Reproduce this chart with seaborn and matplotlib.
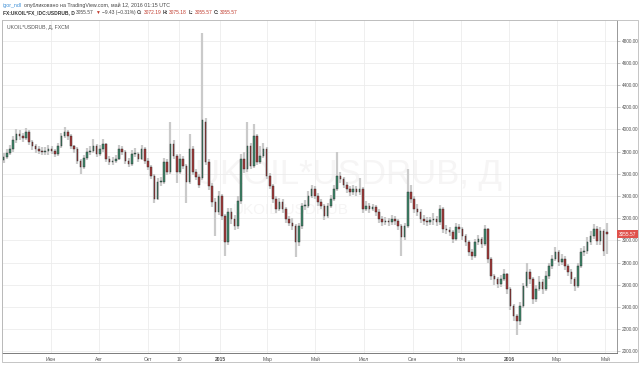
import matplotlib
matplotlib.use('Agg')
import matplotlib.pyplot as plt
import matplotlib.dates as mdates
import numpy as np
import pandas as pd
import seaborn as sns
from matplotlib.patches import Rectangle

# ---------------- data ----------------
opens = [3720, 3753, 3790, 3825, 3900, 3961, 3943, 3925, 3979, 3889, 3850, 3825, 3807, 3798, 3807, 3825, 3807, 3780, 3852, 3943,
         3979, 3943, 3852, 3825, 3717, 3662, 3740, 3798, 3807, 3852, 3780, 3825, 3870, 3735, 3708, 3717, 3735,
         3825, 3798, 3717, 3690, 3780, 3780, 3735, 3825, 3717, 3662, 3581, 3373, 3527, 3527, 3708, 3617, 3870, 3762, 3617, 3735,
         3671, 3527, 3825, 3617, 3572, 3560, 4070, 3708, 3490, 3346, 3255, 3400, 3219, 2984, 3255, 3192, 3128,
         3350, 3735, 3644, 3852, 3671, 3943, 3708, 3762, 3825, 3581, 3490, 3373, 3282, 3346, 3282, 3192, 3160, 3128, 2984, 3128,
         3310, 3310, 3400, 3463, 3400, 3346, 3310, 3219, 3310, 3373, 3463, 3581, 3554, 3500, 3463, 3436, 3463,
         3436, 3463, 3282, 3310, 3282, 3300, 3255, 3192, 3165, 3174, 3165, 3192, 3174, 3128, 3029, 3128, 3436, 3373, 3282, 3255,
         3192, 3174, 3165, 3180, 3192, 3165, 3282, 3101, 3092, 3074, 3011, 3119, 3101, 3038, 2984, 2893, 2857, 2984,
         3011, 2966, 3101, 2830, 2676, 2649, 2604, 2649, 2694, 2558, 2405, 2314, 2269, 2405, 2586, 2712, 2649, 2468, 2558, 2622,
         2558, 2676, 2767, 2830, 2893, 2803, 2830, 2767, 2712, 2649, 2586, 2767, 2893, 2902, 2984, 3038, 3101, 2993, 3083, 3072.19]
highs = [3790, 3820, 3860, 3940, 4000, 3990, 3970, 4010, 3990, 3900, 3870, 3850, 3840, 3840, 3860, 3850, 3820, 3880, 3970, 4020,
         3995, 3960, 3860, 3840, 3730, 3770, 3830, 3850, 3910, 3870, 3860, 3910, 3880, 3760, 3750, 3770, 3860,
         3850, 3810, 3740, 3810, 3830, 3800, 3860, 3840, 3740, 3680, 3600, 3560, 3570, 3740, 3730, 4070, 3900, 3780, 3780, 3760,
         3690, 3961, 3850, 3640, 3600, 4866, 4100, 3730, 3520, 3380, 3440, 3420, 3240, 3290, 3290, 3230, 3400,
         3780, 3800, 4070, 3880, 4050, 3960, 3850, 3880, 3840, 3610, 3510, 3400, 3380, 3370, 3300, 3220, 3200, 3150, 3160, 3340,
         3360, 3440, 3500, 3490, 3430, 3370, 3330, 3340, 3410, 3500, 3800, 3620, 3570, 3530, 3490, 3500, 3490,
         3560, 3480, 3350, 3340, 3330, 3320, 3280, 3220, 3210, 3200, 3230, 3220, 3190, 3150, 3160, 3644, 3500, 3400, 3330, 3280,
         3230, 3210, 3210, 3250, 3220, 3320, 3300, 3140, 3120, 3090, 3160, 3150, 3120, 3060, 3000, 2920, 3010, 3050,
         3030, 3140, 3110, 2850, 2700, 2670, 2690, 2740, 2710, 2580, 2430, 2340, 2440, 2620, 2800, 2740, 2670, 2600, 2680, 2650,
         2720, 2800, 2870, 2940, 2910, 2880, 2860, 2790, 2740, 2670, 2800, 2930, 2950, 3030, 3080, 3150, 3130, 3120, 3100, 3160]
lows = [3700, 3730, 3770, 3800, 3880, 3900, 3890, 3900, 3860, 3810, 3790, 3780, 3770, 3770, 3770, 3780, 3750, 3760, 3830, 3920,
        3900, 3820, 3790, 3690, 3600, 3640, 3720, 3770, 3790, 3750, 3760, 3800, 3710, 3680, 3680, 3700, 3720,
        3770, 3690, 3660, 3670, 3750, 3710, 3720, 3690, 3630, 3550, 3340, 3360, 3490, 3510, 3590, 3600, 3730, 3520, 3600, 3640,
        3340, 3510, 3590, 3540, 3470, 3540, 3680, 3450, 3300, 3038, 3230, 3180, 2857, 2960, 3150, 3090, 3100,
        3330, 3610, 3620, 3640, 3650, 3680, 3690, 3740, 3550, 3460, 3340, 3250, 3260, 3250, 3160, 3130, 3090, 2848, 2950, 3100,
        3270, 3290, 3380, 3370, 3310, 3280, 3180, 3200, 3290, 3350, 3440, 3520, 3470, 3430, 3400, 3410, 3400,
        3410, 3250, 3260, 3250, 3260, 3220, 3160, 3130, 3140, 3130, 3140, 3140, 3090, 2857, 3000, 3110, 3340, 3250, 3220, 3160,
        3140, 3130, 3140, 3140, 3130, 3140, 3070, 3060, 3040, 2980, 2990, 3070, 3000, 2950, 2860, 2820, 2840, 2960,
        2930, 2950, 2800, 2640, 2600, 2570, 2580, 2630, 2520, 2370, 2270, 2151, 2240, 2390, 2570, 2610, 2430, 2440, 2540, 2520,
        2540, 2650, 2740, 2810, 2770, 2780, 2730, 2680, 2610, 2540, 2570, 2750, 2860, 2880, 2960, 3010, 2960, 2960, 2860, 2880]
closes = [3753, 3790, 3825, 3900, 3961, 3943, 3925, 3979, 3889, 3850, 3825, 3807, 3798, 3807, 3825, 3807, 3780, 3852, 3943, 3979,
          3943, 3852, 3825, 3717, 3662, 3740, 3798, 3807, 3852, 3780, 3825, 3870, 3735, 3708, 3717, 3735, 3825,
          3798, 3717, 3690, 3780, 3780, 3735, 3825, 3717, 3662, 3581, 3373, 3527, 3527, 3708, 3617, 3870, 3762, 3617, 3735, 3671,
          3527, 3825, 3617, 3572, 3500, 4080, 3708, 3490, 3346, 3255, 3400, 3219, 2984, 3255, 3192, 3128, 3350,
          3735, 3644, 3852, 3671, 3943, 3708, 3762, 3825, 3581, 3490, 3373, 3282, 3346, 3282, 3192, 3160, 3128, 2984, 3128, 3310,
          3310, 3400, 3463, 3400, 3346, 3310, 3219, 3310, 3373, 3463, 3581, 3554, 3500, 3463, 3436, 3463, 3436,
          3463, 3282, 3310, 3282, 3300, 3255, 3192, 3165, 3174, 3165, 3192, 3174, 3128, 3029, 3128, 3436, 3373, 3282, 3255, 3192,
          3174, 3165, 3180, 3192, 3165, 3282, 3101, 3092, 3074, 3011, 3119, 3101, 3038, 2984, 2893, 2857, 2984, 3011,
          2966, 3101, 2830, 2676, 2649, 2604, 2649, 2694, 2558, 2405, 2314, 2269, 2405, 2586, 2712, 2649, 2468, 2558, 2622, 2558,
          2676, 2767, 2830, 2893, 2803, 2830, 2767, 2712, 2649, 2586, 2767, 2893, 2902, 2984, 3038, 3101, 2993, 3083, 2902, 3055.57]

tick_dates = ['2014-06-01', '2014-08-01', '2014-10-01', '2014-11-10', '2015-01-01', '2015-03-01', '2015-05-01',
              '2015-07-01', '2015-09-01', '2015-11-01', '2016-01-01', '2016-03-01', '2016-05-01']
tick_labels = ['Июн', 'Авг', 'Окт', '10', '2015', 'Мар', 'Май', 'Июл', 'Сен', 'Ноя', '2016', 'Мар', 'Май']
year_labels = ['2015', '2016']
price_ticks = [2000, 2200, 2400, 2600, 2800, 3000, 3200, 3400, 3600, 3800, 4000, 4200, 4400, 4600, 4800]
last_price = 3055.57

# ---------------- style ----------------
sns.set_theme(style='white')
plt.rcParams['font.family'] = ['Liberation Sans', 'DejaVu Sans']

W, H = 640, 365
fig = plt.figure(figsize=(W / 100, H / 100), dpi=100)
fig.patch.set_facecolor('white')
ax = fig.add_axes([2 / W, (H - 353) / H, 615 / W, 333 / H])
ax.set_facecolor('white')

df = pd.DataFrame({
    'date': pd.date_range('2014-04-02', '2016-05-03', periods=len(closes)),
    'open': opens, 'high': highs, 'low': lows, 'close': closes,
})
df['x'] = mdates.date2num(df['date'])
df['up'] = df['close'] >= df['open']
df['bottom'] = df[['open', 'close']].min(axis=1)
df['height'] = np.maximum((df['close'] - df['open']).abs(), 8)

# watermark
ax.text(0.563, 0.535, 'UKOIL*USDRUB, Д', transform=ax.transAxes, ha='center', va='center',
        fontsize=25, color='#f6f5f5', zorder=0)
ax.text(0.47, 0.43, 'UKOIL*USDRUB', transform=ax.transAxes, ha='center', va='center',
        fontsize=11, color='#f6f5f5', zorder=0)

# wicks
ax.vlines(df['x'], df['low'], df['high'], color='#cacaca', lw=1.6, zorder=2)
# bodies
colors = np.where(df['up'], '#3f8a6c', '#a83a3a')
ax.bar(df['x'], df['height'], bottom=df['bottom'], width=2.0, color=colors,
       edgecolor='#2a2a2a', linewidth=0.3, zorder=3)

ax.set_xlim(mdates.date2num(pd.Timestamp('2014-03-31')), mdates.date2num(pd.Timestamp('2016-05-16')))
ax.set_ylim(1985, 4985)

# axes/ticks
ax.yaxis.tick_right()
ax.set_yticks(price_ticks)
ax.set_yticklabels([f'{v:.2f}' for v in price_ticks])
ax.tick_params(axis='y', labelsize=3.4, labelcolor='#555555', length=2, width=0.4, color='#999999', pad=1.5)
xt = mdates.date2num(pd.to_datetime(tick_dates))
ax.set_xticks(xt)
ax.set_xticklabels(tick_labels)
ax.tick_params(axis='x', labelsize=3.6, labelcolor='#555555', length=2, width=0.4, color='#999999', pad=1.2)
for lab in ax.get_xticklabels():
    if lab.get_text() in year_labels:
        lab.set_fontweight('bold')
ax.grid(True, color='#ececec', lw=0.6, zorder=0)
ax.set_axisbelow(True)
for side, col in [('left', '#aaaaaa'), ('right', '#888888'), ('bottom', '#666666'), ('top', '#cccccc')]:
    ax.spines[side].set_visible(True)
    ax.spines[side].set_color(col)
    ax.spines[side].set_linewidth(0.6)

# outer frame
fig.patches.append(Rectangle((2 / W, (H - 362) / H), 636 / W, 342 / H, transform=fig.transFigure,
                             fill=False, edgecolor='#bbbbbb', lw=0.6))

# last price tag
ax.annotate(f'{last_price:.2f}', xy=(1.0, last_price), xycoords=('axes fraction', 'data'),
            xytext=(1.5, 0), textcoords='offset points', ha='left', va='center',
            fontsize=3.4, color='white', annotation_clip=False,
            bbox=dict(boxstyle='square,pad=0.35', fc='#e0524c', ec='none'))

# chart title inside
ax.text(5 / 615, 1 - 5 / 333, 'UKOIL*USDRUB, Д, FXCM', transform=ax.transAxes, ha='left', va='top',
        fontsize=3.7, color='#555555')


def chain(pieces, x0, y0, fs):
    prev = fig.text(x0 / W, 1 - y0 / H, pieces[0][0], color=pieces[0][1], fontweight=pieces[0][2],
                    fontsize=fs, ha='left', va='bottom')
    for s, c, wgt in pieces[1:]:
        prev = ax.annotate(s, xy=(1, 0), xycoords=prev, xytext=(1.0, 0), textcoords='offset points',
                           ha='left', va='bottom', color=c, fontweight=wgt, fontsize=fs,
                           annotation_clip=False)


chain([('igor_ndl', '#3d8fd6', 'normal'),
       ('опубликовано на TradingView.com, май 12, 2016 01:15 UTC', '#444444', 'normal')], 3, 8, 3.8)
red = '#c0392b'
chain([('FX:UKOIL*FX_IDC:USDRUB, D', '#333333', 'bold'),
       ('3055.57', '#444444', 'normal'),
       ('▼', red, 'normal'),
       ('−9.43 (−0.31%)', '#444444', 'normal'),
       ('O:', '#333333', 'bold'), ('3072.19', red, 'normal'),
       ('H:', '#333333', 'bold'), ('3075.18', red, 'normal'),
       ('L:', '#333333', 'bold'), ('3055.57', red, 'normal'),
       ('C:', '#333333', 'bold'), ('3055.57', red, 'normal')], 3, 15, 3.5)

fig.savefig('out.png', dpi=100, facecolor='white')
